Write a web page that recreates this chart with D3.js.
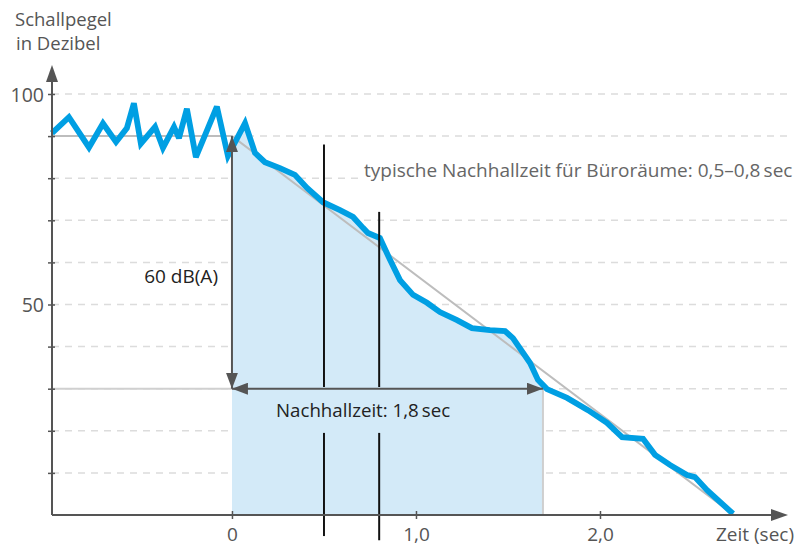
<!DOCTYPE html>
<html>
<head>
<meta charset="utf-8">
<script src="https://cdn.jsdelivr.net/npm/d3@7"></script>
<style>
  body { margin: 0; background: #fff; }
  svg text { font-family: "Open Sans", "Noto Sans", sans-serif; }
</style>
</head>
<body>
<div id="chart"></div>
<script>
// Measured curve: time in seconds, level in dB
const timeSec = [-0.978, -0.886, -0.777, -0.701, -0.630, -0.571, -0.533, -0.495, -0.418, -0.375,
  -0.315, -0.288, -0.245, -0.196, -0.082, -0.022, 0.071, 0.125, 0.179, 0.261, 0.342, 0.408,
  0.495, 0.587, 0.658, 0.712, 0.739, 0.804, 0.859, 0.913, 0.984, 1.060, 1.130, 1.223, 1.304,
  1.402, 1.484, 1.527, 1.620, 1.663, 1.712, 1.821, 1.935, 2.038, 2.120, 2.234, 2.299, 2.380,
  2.473, 2.516, 2.582, 2.723];
const pegel = [90.7, 94.5, 87.3, 93.0, 88.6, 91.9, 97.8, 88.2, 92.2, 87.2,
  92.2, 89.5, 96.5, 85.0, 97.0, 85.3, 93.1, 86.0, 83.8, 82.4, 80.8, 77.7,
  74.3, 72.4, 70.8, 68.2, 67.0, 65.8, 60.6, 55.8, 52.3, 50.4, 48.2, 46.3, 44.4,
  43.9, 43.7, 42.0, 36.1, 32.1, 29.9, 27.8, 24.9, 21.9, 18.5, 18.1, 14.3, 11.9,
  9.5, 9.0, 5.9, 0.3];

// Regression line (start level, decay end time)
const startLevel = 90;
const endLevel = 30;
const decayEnd = 2.728;
const fillEnd = 1.69;      // end of the shaded Nachhallzeit area
const markTimes = [0.5, 0.8];

const xTicks = [0, 1, 2];
const yGrid = [10, 20, 30, 40, 50, 60, 70, 80, 90, 100];
const yLabels = [50, 100];

const width = 796, height = 546;
const svg = d3.select("#chart").append("svg")
  .attr("width", width).attr("height", height);

const x = d3.scaleLinear().domain([-0.978, 3.0]).range([52, 784]);
const y = d3.scaleLinear().domain([0, 100]).range([515, 94]);
const axisColor = "#555";
const blue = "#009fe3";

// dashed grid
svg.append("g").selectAll("line")
  .data(yGrid)
  .enter().append("line")
  .attr("x1", x(-0.978)).attr("x2", 790)
  .attr("y1", d => y(d)).attr("y2", d => y(d))
  .attr("stroke", "#dcdcdc")
  .attr("stroke-width", 1.5)
  .attr("stroke-dasharray", "7,6");

// shaded area under the curve
svg.append("clipPath").attr("id", "fillClip")
  .append("rect")
  .attr("x", x(0)).attr("y", 0)
  .attr("width", x(fillEnd) - x(0)).attr("height", y(0));

const pts = timeSec.map((t, i) => [t, pegel[i]]);
const area = d3.area()
  .x(d => x(d[0])).y0(y(0)).y1(d => y(d[1]));
svg.append("path")
  .datum(pts)
  .attr("clip-path", "url(#fillClip)")
  .attr("fill", "#d3eaf8")
  .attr("d", area);

// right edge of shaded area
svg.append("line")
  .attr("x1", x(fillEnd)).attr("x2", x(fillEnd))
  .attr("y1", y(endLevel)).attr("y2", y(0))
  .attr("stroke", "#cfcfcf").attr("stroke-width", 2);

// horizontal reference line on the left
svg.append("line")
  .attr("x1", x(-0.978)).attr("x2", x(0))
  .attr("y1", y(endLevel)).attr("y2", y(endLevel))
  .attr("stroke", "#d0d0d0").attr("stroke-width", 2);

// regression line
svg.append("path")
  .attr("fill", "none")
  .attr("stroke", "#bdbdbd")
  .attr("stroke-width", 2)
  .attr("d", d3.line()([[x(-0.978), y(startLevel)], [x(0), y(startLevel)], [x(decayEnd), y(0)]]));

// measured curve
svg.append("path")
  .datum(pts)
  .attr("fill", "none")
  .attr("stroke", blue)
  .attr("stroke-width", 5.8)
  .attr("stroke-linejoin", "miter")
  .attr("stroke-miterlimit", 3)
  .attr("d", d3.line().x(d => x(d[0])).y(d => y(d[1])));

// arrow markers
const defs = svg.append("defs");
defs.append("marker")
  .attr("id", "arrow")
  .attr("viewBox", "0 0 16 12")
  .attr("refX", 16).attr("refY", 6)
  .attr("markerWidth", 16).attr("markerHeight", 12)
  .attr("markerUnits", "userSpaceOnUse")
  .attr("orient", "auto-start-reverse")
  .append("path")
  .attr("d", "M0,0 L16,6 L0,12 Z")
  .attr("fill", axisColor);

// 60 dB dimension arrow
svg.append("line")
  .attr("x1", x(0)).attr("x2", x(0))
  .attr("y1", y(startLevel)).attr("y2", y(endLevel))
  .attr("stroke", axisColor).attr("stroke-width", 2)
  .attr("marker-start", "url(#arrow)")
  .attr("marker-end", "url(#arrow)");

svg.append("text")
  .attr("x", 218).attr("y", 283)
  .attr("text-anchor", "end")
  .attr("font-size", 19)
  .attr("fill", "#222")
  .text("60 dB(A)");

// Nachhallzeit dimension arrow
svg.append("line")
  .attr("x1", x(0)).attr("x2", x(fillEnd))
  .attr("y1", y(endLevel)).attr("y2", y(endLevel))
  .attr("stroke", axisColor).attr("stroke-width", 2)
  .attr("marker-start", "url(#arrow)")
  .attr("marker-end", "url(#arrow)");

// black marker lines for 0,5 and 0,8 sec (broken around the label)
const markTop = [88, 72];
markTimes.forEach((t, i) => {
  [[markTop[i], endLevel + 0.4], [19.5, -5 - i]].forEach(seg => {
    svg.append("line")
      .attr("x1", x(t)).attr("x2", x(t))
      .attr("y1", y(seg[0])).attr("y2", y(seg[1]))
      .attr("stroke", "#111").attr("stroke-width", 2);
  });
});

svg.append("text")
  .attr("x", 276).attr("y", 417)
  .attr("font-size", 18.7)
  .attr("fill", "#222")
  .text("Nachhallzeit: 1,8\u2009sec");

// annotation with white background
const note = svg.append("g");
note.append("rect")
  .attr("x", 358).attr("y", y(80) - 17)
  .attr("width", 438).attr("height", 28)
  .attr("fill", "#fff");
note.append("text")
  .attr("x", 364).attr("y", y(80) - 1)
  .attr("font-size", 19)
  .attr("fill", "#666")
  .text("typische Nachhallzeit für Büroräume: 0,5\u20130,8\u2009sec");

// axes
const yAxis = svg.append("g")
  .attr("transform", `translate(${x(-0.978)},0)`)
  .call(d3.axisLeft(y).tickValues(yGrid).tickSize(0)
    .tickFormat(d => yLabels.includes(d) ? d : ""));
yAxis.select(".domain").remove();
yAxis.selectAll(".tick line")
  .attr("x1", -4).attr("x2", 3)
  .attr("stroke", axisColor).attr("stroke-width", 1.5);
yAxis.selectAll(".tick text")
  .attr("x", -8)
  .attr("dy", "0.36em")
  .attr("font-size", 19.5)
  .attr("fill", axisColor)
  .style("font-family", "'Open Sans', 'Noto Sans', sans-serif");

const xAxis = svg.append("g")
  .attr("transform", `translate(0,${y(0)})`)
  .call(d3.axisBottom(x).tickValues(xTicks).tickSize(0)
    .tickFormat(d => d === 0 ? "0" : d3.format(".1f")(d).replace(".", ",")));
xAxis.select(".domain").remove();
xAxis.selectAll(".tick line")
  .attr("y1", -4).attr("y2", 4)
  .attr("stroke", axisColor).attr("stroke-width", 1.5);
xAxis.selectAll(".tick text")
  .attr("y", 26)
  .attr("dy", 0)
  .attr("font-size", 19)
  .attr("fill", axisColor)
  .style("font-family", "'Open Sans', 'Noto Sans', sans-serif");

// axis lines with arrow heads
svg.append("line")
  .attr("x1", x(-0.978)).attr("x2", x(-0.978))
  .attr("y1", y(0)).attr("y2", 80)
  .attr("stroke", axisColor).attr("stroke-width", 2);
svg.append("path")
  .attr("d", `M${x(-0.978)},65 L${x(-0.978) + 6},82 L${x(-0.978) - 6},82 Z`)
  .attr("fill", axisColor);
svg.append("line")
  .attr("x1", x(-0.978)).attr("x2", 772)
  .attr("y1", y(0)).attr("y2", y(0))
  .attr("stroke", axisColor).attr("stroke-width", 2);
svg.append("path")
  .attr("d", `M788,${y(0)} L771,${y(0) - 6} L771,${y(0) + 6} Z`)
  .attr("fill", axisColor);

svg.append("text")
  .attr("x", 794).attr("y", 541)
  .attr("text-anchor", "end")
  .attr("font-size", 19)
  .attr("fill", axisColor)
  .text("Zeit (sec)");

// y axis title
const title = svg.append("text")
  .attr("x", 15).attr("y", 26)
  .attr("font-size", 18.5)
  .attr("fill", axisColor);
title.append("tspan").attr("x", 15).text("Schallpegel");
title.append("tspan").attr("x", 16).attr("dy", 24).text("in Dezibel");
</script>
</body>
</html>
